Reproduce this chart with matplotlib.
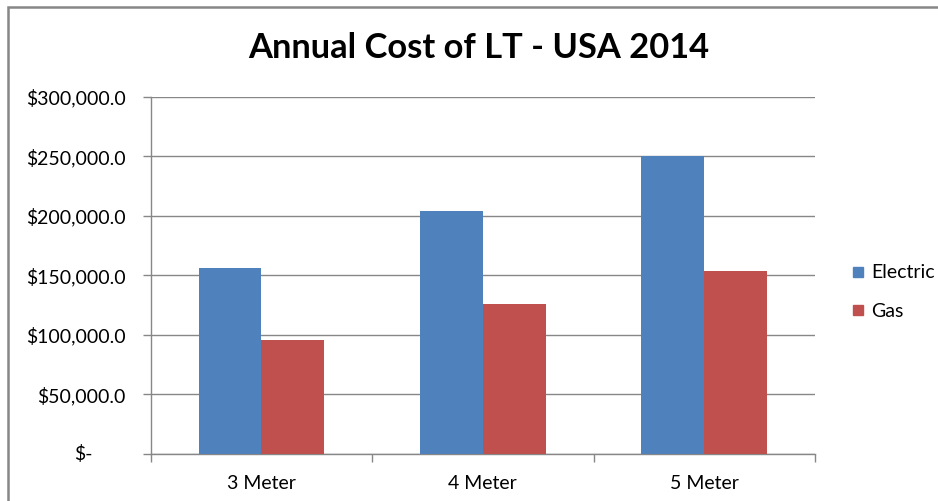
import numpy as np
import matplotlib
matplotlib.use("Agg")
import matplotlib.pyplot as plt
from matplotlib.patches import Rectangle
from matplotlib.lines import Line2D
from matplotlib.ticker import FixedLocator, FuncFormatter

plt.rcParams["font.family"] = ["Lato", "DejaVu Sans"]

# data
categories = ["3 Meter", "4 Meter", "5 Meter"]
electric = [155800, 204100, 250400]
gas = [95500, 125800, 153500]
series_names = ["Electric", "Gas"]
yticks = [0, 50000, 100000, 150000, 200000, 250000, 300000]

BLUE = "#4F81BD"
RED = "#C0504D"
GRID = "#878787"
FS = 14

fig = plt.figure(figsize=(9.38, 5.01), dpi=100)
ax = fig.add_axes([150.7 / 938, 1 - 453.7 / 501, (815 - 150.7) / 938, (453.7 - 96.7) / 501])

x = np.arange(len(categories))
bw = 0.284
ax.bar(x - bw / 2, electric, bw, color=BLUE, label=series_names[0], zorder=3)
ax.bar(x + bw / 2, gas, bw, color=RED, label=series_names[1], zorder=3)

ax.set_xlim(-0.5, len(categories) - 0.5)
ax.set_ylim(0, 300000)

# y axis
ax.yaxis.set_major_locator(FixedLocator(yticks))
ax.yaxis.set_major_formatter(FuncFormatter(lambda v, p: "" if v == 0 else f"${v:,.1f}"))
ax.annotate("$-", xy=(0, 0), xycoords=("axes fraction", "data"),
            xytext=(-41.5, 0), textcoords="offset points",
            ha="right", va="center", fontsize=FS)
ax.tick_params(axis="y", length=5.8, width=1, color=GRID, pad=12, labelsize=FS)
ax.grid(axis="y", color=GRID, linewidth=1, zorder=0)

# x axis: labels at centres, tick marks at category boundaries
ax.set_xticks(x)
ax.set_xticklabels(categories)
ax.set_xticks(np.arange(-0.5, len(categories)), minor=True)
ax.tick_params(axis="x", which="major", length=0, pad=15, labelsize=FS)
ax.tick_params(axis="x", which="minor", length=5.5, width=1, color=GRID)

for s in ["top", "right"]:
    ax.spines[s].set_visible(False)
for s in ["left", "bottom"]:
    ax.spines[s].set_color(GRID)
    ax.spines[s].set_linewidth(1)

fig.text(478.5 / 938, 1 - 48 / 501, "Annual Cost of LT - USA 2014",
         ha="center", va="center", fontsize=24.8, fontweight="bold")

handles = [Line2D([], [], marker="s", linestyle="none", markersize=6.5, color=c)
           for c in (BLUE, RED)]
fig.legend(handles, series_names, loc="center left",
           bbox_to_anchor=(845 / 938, 1 - 292 / 501), frameon=False,
           fontsize=FS, handlelength=0.55, handletextpad=0.4,
           labelspacing=1.1, borderaxespad=0)

# outer chart border (only left and top visible)
fig.patches.append(Rectangle((8 / 938, -0.2), 1.5, 1.2 - 6.5 / 501,
                             transform=fig.transFigure, fill=False,
                             edgecolor=GRID, linewidth=1.8))

fig.savefig("out.png", dpi=100)
